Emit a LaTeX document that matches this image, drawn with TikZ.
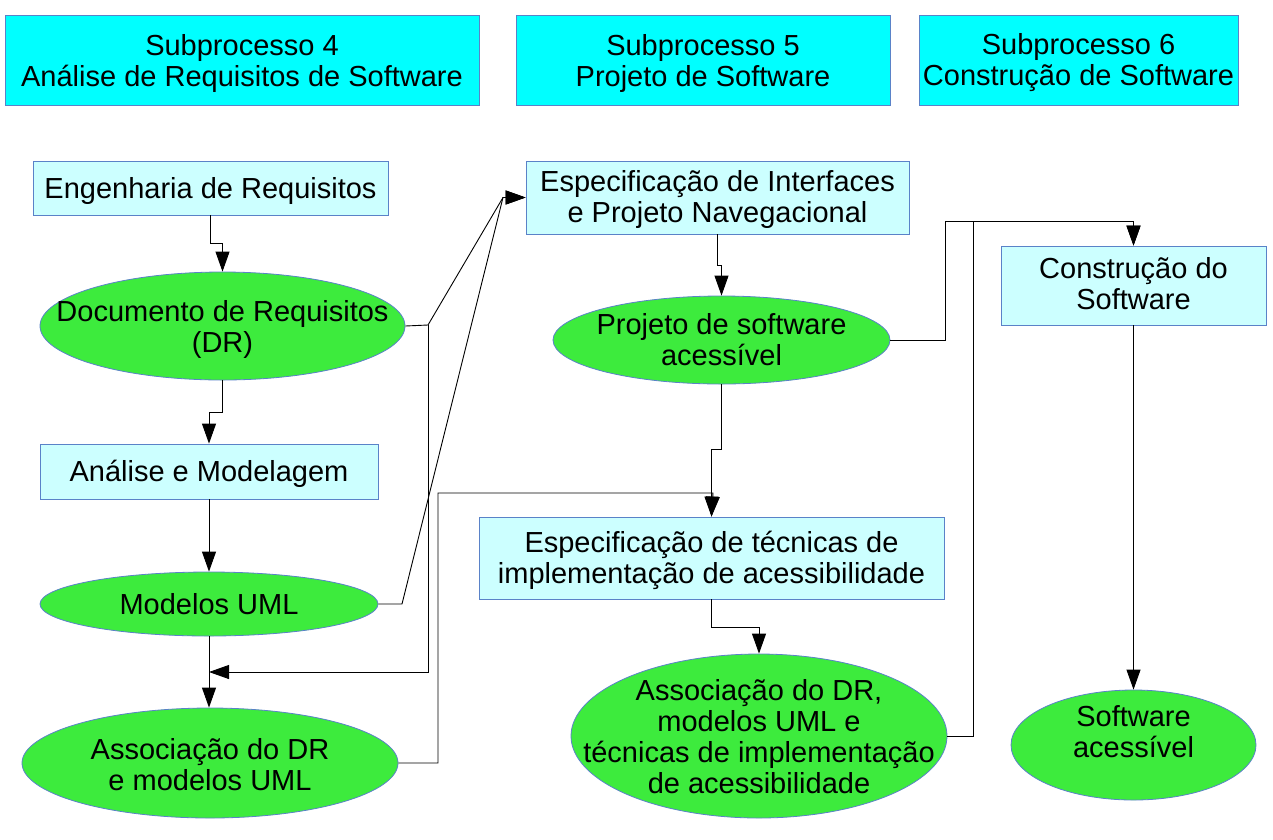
\documentclass[tikz,border=0pt]{standalone}
\usepackage{fontspec}
\setmainfont{Liberation Sans}
\usetikzlibrary{arrows.meta,shapes.geometric,calc}
\definecolor{subcyan}{RGB}{0,255,255}
\definecolor{boxcyan}{RGB}{204,255,255}
\definecolor{ellgreen}{RGB}{61,235,61}
\definecolor{edgeblue}{RGB}{90,130,200}
\tikzset{
  base/.style={draw=edgeblue, line width=0.8pt, inner sep=0pt},
  subbox/.style={base, rectangle, fill=subcyan},
  actbox/.style={base, rectangle, fill=boxcyan},
  artell/.style={base, ellipse, fill=ellgreen},
  ellabel/.style={align=center, font=\fontsize{29}{31}\selectfont, inner sep=0pt},
  conn/.style={line width=0.9pt, draw=black},
  arr/.style={conn, -{Triangle[length=20pt,width=14pt]}}
}
\begin{document}
\begin{tikzpicture}[x=1pt,y=-1pt]
\useasboundingbox (0,0) rectangle (1273,839);
% subprocess headers
\node[subbox, minimum width=474pt, minimum height=90pt,
  label={[ellabel,yshift=-3pt]center:Subprocesso 4\\Análise de Requisitos de Software}] (sub4) at (242,60) {};
\node[subbox, minimum width=374pt, minimum height=90pt,
  label={[ellabel,yshift=-3pt]center:Subprocesso 5\\Projeto de Software}] (sub5) at (703,60) {};
\node[subbox, minimum width=319pt, minimum height=90pt,
  label={[ellabel,yshift=-3pt]center:Subprocesso 6\\Construção de Software}] (sub6) at (1078.5,60) {};
% column 1
\node[actbox, minimum width=355pt, minimum height=54pt,
  label={[ellabel,yshift=-3pt]center:Engenharia de Requisitos}] (eng) at (210.5,188) {};
\node[artell, minimum width=365pt, minimum height=108pt,
  label={[ellabel,yshift=-3pt]center:Documento de Requisitos\\(DR)}] (dr) at (222.5,326) {};
\node[actbox, minimum width=338pt, minimum height=55pt,
  label={[ellabel,yshift=-2pt]center:Análise e Modelagem}] (ana) at (209,471.5) {};
\node[artell, minimum width=338pt, minimum height=64pt,
  label={[ellabel]center:Modelos UML}] (uml) at (209,604) {};
\node[artell, minimum width=376pt, minimum height=110pt,
  label={[ellabel,yshift=-2pt]center:Associação do DR\\e modelos UML}] (as1) at (210,763) {};
% column 2
\node[actbox, minimum width=383pt, minimum height=73pt,
  label={[ellabel,yshift=-2pt]center:Especificação de Interfaces\\e Projeto Navegacional}] (espint) at (717.5,197.5) {};
\node[artell, minimum width=337pt, minimum height=88pt,
  label={[ellabel]center:Projeto de software\\acessível}] (proj) at (721.5,340) {};
\node[actbox, minimum width=465pt, minimum height=82pt,
  label={[ellabel,yshift=-2pt]center:Especificação de técnicas de\\implementação de acessibilidade}] (esptec) at (711.5,558) {};
\node[artell, minimum width=376pt, minimum height=164pt,
  label={[ellabel,yshift=-1pt]center:Associação do DR,\\modelos UML e\\técnicas de implementação\\de acessibilidade}] (as3) at (759,736) {};
% column 3
\node[actbox, minimum width=265pt, minimum height=79pt,
  label={[ellabel,yshift=2pt]center:Construção do\\Software}] (constr) at (1133.5,285.5) {};
\node[artell, minimum width=245pt, minimum height=110pt,
  label={[ellabel,yshift=13pt]center:Software\\acessível}] (swac) at (1133.5,745) {};
% bend points
\coordinate (drj) at (428,325);
\coordinate (umlj) at (402,604);
\coordinate (espj) at (503,197.5);
\coordinate (mj) at (209,672);
\coordinate (topj) at (945,221);
\coordinate (topk) at (973,221);
% connectors
\draw[arr] (eng.south) -- ++(0,28) -| (dr.north);
\draw[arr] (dr.south) -- ++(0,32) -| (ana.north);
\draw[arr] (ana.south) -- (uml.north);
\draw[arr] (uml.south) -- (uml.south |- as1.north);
\draw[arr] (dr.east) -- (drj) -- (espj) -- (espint.west);
\draw[arr] (drj) |- (mj);
\draw[arr] (uml.east) -- (umlj) -- (espj) -- (espint.west);
\draw[arr] (as1.east) -- (438,763) |- (713,493) -- (esptec.north);
\draw[arr] (espint.south) -- ++(0,31) -| (proj.north);
\draw[arr] (proj.south) -- ++(0,65) -| (esptec.north);
\draw[arr] (esptec.south) -- ++(0,28) -| (as3.north);
\draw[arr] (proj.east) -| (topj) -| (constr.north);
\draw[arr] (as3.east) -| (topk) -| (constr.north);
\draw[arr] (constr.south) -- (swac.north);
\end{tikzpicture}
\end{document}
